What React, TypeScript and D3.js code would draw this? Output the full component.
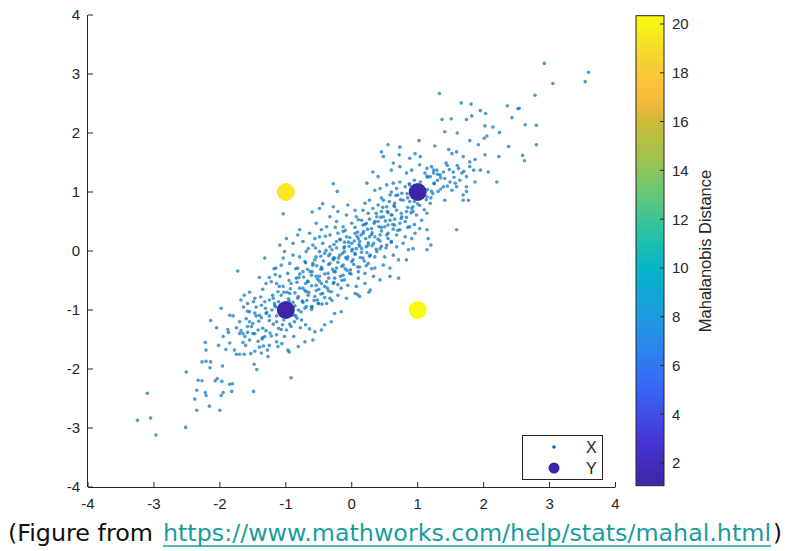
import React from 'react';
import * as d3 from 'd3';

const W = 788;
const H = 551;

const xTicks = [-4, -3, -2, -1, 0, 1, 2, 3, 4];
const yTicks = [-4, -3, -2, -1, 0, 1, 2, 3, 4];
const cbTicks = [2, 4, 6, 8, 10, 12, 14, 16, 18, 20];
const cbDomain: [number, number] = [1.07, 20.34];
const cbLabel = 'Mahalanobis Distance';
const legendLabels = ['X', 'Y'];

// Query points Y and their Mahalanobis distances
const yPtsX = [1, 1, -1, -1];
const yPtsY = [1, -1, 1, -1];
const mahalD = [1.12, 20.34, 19.5, 1.07];

// parula-like colormap stops (fraction of colorbar range -> colour)
const parulaT = [0, 0.1, 0.204, 0.282, 0.36, 0.463, 0.541, 0.619, 0.697, 0.775, 0.827, 0.905, 1];
const parulaC = ['#3e26a8', '#4637d7', '#3764f5', '#2d82f0', '#1e9be1', '#05b5c8', '#28c2a4', '#64c878', '#a0c44e', '#cdbb36', '#fcb93c', '#f5d232', '#f9fb0e'];

// Sample X (bivariate cloud)
const xSamples: [number, number][] = [
  // lower-left tail
  [-3.10,-2.41],[-3.25,-2.87],[-3.05,-2.83],[-2.97,-3.12],[-2.52,-2.99],[-2.51,-2.05],[-2.38,-2.51],[-2.35,-2.36],[-2.35,-2.70],[-2.33,-2.19],
  [-2.27,-2.20],[-2.22,-2.40],[-2.21,-2.45],[-2.16,-2.63],[-2.00,-2.70],[-2.07,-2.20],[-2.04,-2.16],[-1.97,-2.21],[-1.95,-2.40],[-1.98,-2.45],
  [-1.85,-2.26],[-1.81,-2.25],[-1.82,-2.38],[-1.49,-2.38],[-2.27,-1.88],[-2.21,-1.87],[-2.14,-1.88],[-2.15,-1.98],[-1.96,-1.95],[-2.22,-1.55],
  [-2.21,-1.68],[-2.02,-1.60],[-1.91,-1.67],[-1.85,-1.56],[-1.78,-1.68],[-1.75,-1.75],[-1.70,-1.75],[-1.63,-1.75],[-1.61,-1.60],[-1.55,-1.51],
  [-1.53,-1.74],[-1.47,-1.70],[-1.48,-1.92],[-1.44,-2.01],[-1.42,-1.53],[-1.40,-1.63],[-1.37,-1.73],[-1.34,-1.61],[-1.27,-1.79],[-1.28,-1.68],
  [-1.25,-1.60],[-1.22,-1.44],[-1.70,-1.40],[-1.65,-1.40],[-1.58,-1.38],[-1.47,-1.40],[-1.36,-1.49],[-1.32,-1.45],[-1.87,-1.38],[-0.92,-2.15],
  // around (-1,-1)
  [-1.73,-0.34],[-1.32,-0.12],[-1.15,-0.29],[-1.16,-0.40],[-1.30,-0.55],[-1.22,-0.52],[-1.14,-0.55],[-1.12,-0.69],[-1.63,-0.75],[-1.68,-0.83],
  [-1.58,-0.89],[-1.49,-0.86],[-1.37,-0.92],[-1.32,-0.86],[-1.25,-0.83],[-1.17,-0.89],[-1.21,-1.00],[-1.30,-1.06],[-1.40,-1.09],[-1.47,-1.05],
  [-1.55,-1.03],[-1.98,-0.97],[-1.85,-1.09],[-2.14,-1.18],[-1.50,-1.23],[-1.42,-1.34],[-1.35,-1.31],[-1.58,-1.28],[-1.68,-1.35],[-1.88,-1.33],
  [-0.87,-1.09],[-0.81,-1.00],[-0.71,-0.97],[-0.61,-0.94],[-0.50,-0.89],[-0.38,-0.89],[-0.87,-1.20],[-0.76,-1.17],[-0.70,-1.25],[-0.64,-1.32],
  [-0.41,-1.25],[-0.31,-1.20],[-0.26,-1.06],[-0.16,-1.03],[-1.07,-1.33],[-0.99,-1.34],[-0.92,-1.28],[-1.14,-1.20],[-1.25,-1.18],[-0.68,-0.84],
  [-0.52,-0.83],[-0.30,-0.84],[-1.14,-1.42],[-1.14,-1.54],[-1.02,-1.45],[-1.06,-1.57],[-0.97,-1.68],[-0.81,-1.62],[-0.71,-1.54],[-0.59,-1.51],
  [-0.46,-1.34],[-0.56,-1.37],[-1.12,-1.62],[-0.95,-1.71],
  // centre
  [-0.28,1.14],[-0.22,1.01],[-0.44,0.80],[-0.49,0.72],[-0.28,0.75],[-0.06,0.78],[0.05,0.69],[-0.60,0.66],[-0.21,0.67],[-1.04,0.63],
  [-0.33,0.58],[-0.08,0.61],[0.07,0.58],[-0.79,0.36],[-0.54,0.47],[-0.38,0.41],[-0.23,0.50],[-0.13,0.41],[0.00,0.47],[0.10,0.53],
  [-0.46,0.36],[-0.99,0.21],[-0.82,0.27],[-0.64,0.30],[-0.49,0.24],[-0.33,0.27],[-0.21,0.30],[-0.08,0.24],[0.05,0.30],[0.10,0.21],
  [-0.56,0.21],[-0.13,0.33],[-1.02,-0.01],[-0.89,0.13],[-0.74,0.16],[-0.59,0.10],[-0.44,0.13],[-0.33,0.07],[-0.23,0.16],[-0.11,0.07],
  [0.00,0.13],[0.12,0.16],[0.22,0.07],[0.33,0.13],[0.43,0.04],[0.53,0.10],[0.68,0.07],[0.78,0.13],[0.93,0.04],[1.14,0.02],
  [-0.66,0.04],[0.07,0.04],[0.60,0.16],[0.86,0.02],[-1.04,-0.12],[-0.89,-0.07],[-0.79,-0.10],[-0.69,-0.01],[-0.54,-0.10],[-0.41,-0.04],
  [-0.28,-0.12],[-0.18,-0.07],[-0.06,-0.10],[0.05,-0.04],[0.17,-0.12],[0.28,-0.07],[0.38,-0.01],[0.50,-0.10],[0.63,-0.07],[0.71,-0.15],
  [0.83,-0.15],[-0.49,-0.01],[-0.11,-0.01],[-1.07,-0.24],[-0.94,-0.21],[-0.82,-0.29],[-0.71,-0.18],[-0.59,-0.24],[-0.46,-0.27],[-0.33,-0.21],
  [-0.23,-0.29],[-0.13,-0.24],[0.00,-0.18],[0.12,-0.27],[0.25,-0.21],[0.35,-0.29],[0.48,-0.24],[0.58,-0.29],[-0.56,-0.15],[-0.28,-0.15],
  [-1.09,-0.43],[-0.97,-0.38],[-0.84,-0.46],[-0.74,-0.35],[-0.61,-0.41],[-0.49,-0.43],[-0.36,-0.38],[-0.26,-0.46],[-0.13,-0.41],[-0.03,-0.38],
  [0.10,-0.46],[0.20,-0.38],[0.33,-0.43],[0.43,-0.49],[0.58,-0.43],[0.71,-0.46],[-1.04,-0.60],[-0.92,-0.55],[-0.79,-0.63],[-0.66,-0.52],
  [-0.54,-0.58],[-0.41,-0.60],[-0.28,-0.55],[-0.16,-0.63],[-0.06,-0.58],[0.07,-0.60],[0.20,-0.55],[0.28,-0.66],[-1.07,-0.75],[-0.94,-0.72],
  [-0.82,-0.80],[-0.69,-0.69],[-0.56,-0.77],[-0.44,-0.72],[-0.33,-0.80],[-0.21,-0.75],[-0.08,-0.80],[0.05,-0.72],[0.12,-0.77],[-1.09,0.10],
  [1.20,0.10],[0.26,-0.70],[0.09,-0.74],
  // upper band around (1,1)
  [1.41,2.02],[1.60,2.00],[2.02,2.12],[2.14,2.10],[2.24,2.01],[2.05,1.95],[2.01,1.91],[1.79,1.87],[1.92,1.80],[2.38,1.77],
  [0.55,1.80],[0.73,1.76],[1.02,1.87],[1.26,1.78],[1.47,1.72],[1.59,1.68],[1.52,1.65],[1.69,1.60],[1.79,1.51],[1.87,1.55],
  [2.23,1.60],[2.02,1.63],[0.45,1.68],[0.48,1.60],[0.63,1.49],[0.72,1.63],[0.88,1.57],[0.96,1.65],[1.04,1.60],[1.14,1.40],
  [1.21,1.43],[1.29,1.37],[1.39,1.34],[1.43,1.49],[1.48,1.38],[1.54,1.34],[1.62,1.40],[1.67,1.32],[1.74,1.26],[1.85,1.37],
  [1.95,1.37],[2.07,1.34],[1.79,1.43],[0.32,1.34],[0.40,1.26],[0.23,1.15],[0.60,1.37],[0.73,1.43],[0.83,1.32],[0.91,1.37],
  [1.03,1.46],[1.11,1.32],[1.19,1.26],[1.24,1.32],[1.34,1.29],[1.41,1.23],[1.49,1.17],[1.57,1.15],[1.64,1.20],[1.74,1.09],
  [1.87,1.17],[2.20,1.17],[1.59,1.09],[1.31,1.01],[1.39,1.09],[1.52,1.03],[0.35,1.03],[0.43,1.06],[0.53,1.12],[0.63,1.15],
  [0.68,1.06],[0.73,1.17],[0.81,1.09],[0.88,1.12],[0.76,0.98],[0.58,0.95],[0.48,0.86],[0.40,0.78],[0.27,0.86],[0.20,0.81],
  [0.65,0.81],[0.78,0.86],[0.88,0.84],[0.93,0.75],[1.14,0.92],[1.19,0.81],[1.21,1.01],[1.41,0.86],[1.69,0.86],[1.77,0.86],
  [1.74,1.01],[1.69,0.95],[0.17,0.69],[0.25,0.64],[0.32,0.72],[0.38,0.58],[0.45,0.67],[0.53,0.75],[0.60,0.61],[0.68,0.69],
  [0.76,0.58],[0.83,0.67],[0.91,0.72],[0.98,0.61],[1.06,0.52],[1.14,0.64],[0.15,0.52],[0.22,0.47],[0.30,0.38],[0.40,0.50],
  [0.50,0.41],[0.58,0.52],[0.65,0.44],[0.73,0.36],[0.81,0.50],[0.88,0.41],[0.96,0.30],[1.03,0.38],[1.14,0.36],[0.17,0.30],
  [0.27,0.24],[0.43,0.27],[0.55,0.21],[0.68,0.27],[0.81,0.24],[0.91,0.21],[1.16,0.21],[1.59,0.36],[0.48,0.58],
  // upper-right tail
  [2.92,3.18],[3.59,3.03],[3.54,2.87],[3.05,2.84],[1.33,2.67],[2.78,2.64],[1.66,2.51],[1.81,2.49],[2.36,2.46],[2.52,2.41],
  [2.54,2.42],[1.95,2.38],[2.03,2.33],[1.82,2.29],[1.37,2.23],[1.51,2.24],[1.74,2.23],[2.43,2.26],[2.63,2.14],[2.80,2.13],
  [2.80,1.80],[2.59,1.62],[2.62,1.53],
  // dense core (estimated)
  [-0.30,0.02],[-0.18,0.20],[-0.05,0.15],[0.08,0.25],[0.18,0.33],[0.30,0.28],[0.40,0.20],[0.25,0.10],[0.15,-0.02],[0.02,-0.15],
  [-0.10,-0.30],[-0.20,-0.12],[-0.35,-0.08],[-0.45,-0.30],[-0.60,-0.35],[-0.70,-0.55],[-0.52,-0.48],[-0.38,-0.52],[-0.15,-0.50],[-0.02,-0.32],
  [0.10,-0.35],[0.22,-0.25],[0.35,-0.10],[0.45,0.08],[0.55,0.30],[0.45,0.40],[0.35,0.50],[0.20,0.45],[0.05,0.40],[-0.10,0.35],
  [-0.25,0.40],[-0.40,0.25],[-0.55,0.05],[-0.70,-0.20],[-0.85,-0.30],[-0.95,-0.50],[-0.80,-0.45],[-0.65,-0.70],[-0.50,-0.65],[-0.35,-0.68],
  [-0.25,-0.35],[0.00,0.00],[-0.12,0.05],[0.12,0.08],[0.30,-0.30],[0.52,0.05],[0.62,0.45],[0.70,0.35],[0.60,0.15],[0.85,0.40],
  [0.75,0.55],[0.90,0.65],[1.00,0.80],[0.85,0.90],[0.65,0.75],[0.55,0.65],[0.95,0.45],[1.10,0.70],[1.20,0.90],[0.70,0.95],
  [0.60,1.00],[0.45,0.90],[1.05,1.10],[1.25,1.15],[1.15,1.25],[0.95,1.20],[1.30,1.30],
  [-1.15,-0.95],[-0.95,-0.85],[-0.85,-1.10],[-0.75,-0.85],[-1.25,-1.10],[-1.05,-1.25],[-0.90,-0.95],[-1.20,-0.75],[-1.35,-0.65],[-1.45,-0.95],
  [-1.60,-1.15],[-1.50,-1.40],[-1.30,-1.35],[-1.75,-1.30],[-1.55,-0.70],[-1.40,-0.45],[-1.25,-0.45],[-1.10,-0.60],[-0.98,-0.70],[-1.18,-0.30],
  [-0.60,-0.95],[-0.45,-0.90],[-0.78,-1.30],[-0.88,-1.45],[-1.80,-1.10],[-1.95,-1.45],[-1.65,-1.55],[-2.05,-1.30],
  // dense diagonal band (estimated)
  [-1.35,-1.47],[-1.52,-1.28],[-1.41,-1.19],[-1.24,-1.39],[-1.37,-1.13],[-1.19,-1.24],[-1.11,-1.31],[-1.29,-1.04],[-1.14,-1.10],[-1.31,-0.97],
  [-1.03,-1.17],[-1.17,-0.93],[-1.07,-1.06],[-0.94,-1.24],[-0.91,-1.09],[-1.11,-0.86],[-0.97,-0.99],[-0.83,-1.14],[-1.19,-0.80],[-0.86,-0.93],
  [-0.96,-0.81],[-0.77,-1.03],[-1.03,-0.70],[-0.89,-0.87],[-0.74,-0.87],[-0.86,-0.71],[-0.69,-0.94],[-0.93,-0.64],[-0.81,-0.77],[-0.61,-0.99],
  [-0.66,-0.75],[-0.74,-0.63],[-0.57,-0.84],[-0.83,-0.53],[-0.71,-0.67],[-0.51,-0.89],[-0.54,-0.67],[-0.67,-0.51],[-0.47,-0.73],[-0.73,-0.44],
  [-0.61,-0.59],[-0.41,-0.79],[-0.79,-0.39],[-0.46,-0.55],[-0.54,-0.43],[-0.37,-0.63],[-0.63,-0.35],[-0.49,-0.51],[-0.31,-0.69],[-0.67,-0.31],
  [-0.35,-0.46],[-0.47,-0.31],[-0.27,-0.53],[-0.53,-0.25],[-0.41,-0.39],[-0.21,-0.57],[-0.59,-0.21],[-0.27,-0.35],[-0.35,-0.23],[-0.17,-0.43],
  [-0.43,-0.17],[-0.29,-0.31],[-0.11,-0.49],[-0.47,-0.09],[-0.15,-0.26],[-0.26,-0.12],[-0.07,-0.33],[-0.33,-0.05],[-0.21,-0.19],[-0.01,-0.39],
  [-0.39,0.01],[-0.07,-0.14],[-0.14,-0.04],[0.03,-0.23],[-0.23,0.05],[-0.09,-0.11],[0.09,-0.27],[-0.27,0.11],[0.05,-0.06],[-0.04,0.08],
  [0.13,-0.11],[-0.11,0.15],[0.01,0.03],[0.19,-0.17],[-0.17,0.19],[0.15,0.04],[0.04,0.17],[0.23,-0.03],[-0.03,0.23],[0.11,0.11],
  [0.27,-0.09],[0.25,0.14],[0.14,0.27],[0.31,0.09],[0.09,0.32],[0.21,0.21],[0.37,0.03],[0.35,0.24],[0.24,0.37],[0.43,0.17],
  [0.17,0.44],[0.31,0.31],[0.45,0.34],[0.34,0.47],[0.53,0.27],[0.27,0.54],[0.41,0.41],[0.55,0.44],[0.44,0.57],[0.63,0.37],
  [0.37,0.64],[0.51,0.51],[0.65,0.54],[0.54,0.67],[0.73,0.47],[0.47,0.74],[0.61,0.61],[0.75,0.64],[0.64,0.77],[0.83,0.57],
  [0.57,0.84],[0.85,0.74],[0.74,0.87],[0.93,0.67],[0.67,0.94],[0.95,0.84],[0.84,0.97],[1.03,0.77],[1.05,0.94],[0.94,1.07],
  [1.13,0.87],[0.87,1.14],[1.15,1.04],[1.04,1.17],[1.23,0.97],[1.25,1.14],[1.14,1.27],[1.35,1.24],[1.24,1.37],
  [-1.62,-1.45],[-1.55,-1.20],[-1.70,-1.20],[-1.45,-1.10],[-1.58,-1.02],[-1.38,-0.78],[-1.47,-0.80],[-1.64,-0.95],
  [1.45,1.45],[1.55,1.25],[1.35,1.05],[1.60,1.45],[1.70,1.35],[1.45,1.10],[1.30,1.20],
];

const axisColor = '#262626';
const tickFont = "'Liberation Sans', Arial, Helvetica, sans-serif";

export default function App() {
  const x = d3.scaleLinear().domain([-4, 4]).range([88, 615.5]);
  const y = d3.scaleLinear().domain([-4, 4]).range([487, 15]);
  const cb = d3.scaleLinear().domain(cbDomain).range([485.7, 15.7]);
  const tScale = d3.scaleLinear<string>()
    .domain(parulaT.map(t => cbDomain[0] + t * (cbDomain[1] - cbDomain[0])))
    .range(parulaC)
    .interpolate(d3.interpolateRgb);
  const stops = d3.range(0, 51).map(i => {
    const t = i / 50;
    return { t, c: tScale(cbDomain[0] + t * (cbDomain[1] - cbDomain[0])) };
  });
  const cbX0 = 636, cbX1 = 664;
  const [x0, x1] = x.range();
  const [y0, y1] = y.range();

  return (
    <svg width={W} height={H} style={{ position: 'absolute', left: 0, top: 0, background: '#fff' }}>
      <defs>
        <linearGradient id="parula" x1="0" y1="1" x2="0" y2="0">
          {stops.map(s => <stop key={s.t} offset={s.t} stopColor={s.c} />)}
        </linearGradient>
      </defs>
      <rect width={W} height={H} fill="#fff" />

      {/* sample points */}
      <g>
        {xSamples.map((p, i) => (
          <circle key={i} cx={x(p[0])} cy={y(p[1])} r={1.8} fill="#0072BD" fillOpacity={0.7} />
        ))}
      </g>

      {/* query points */}
      <g>
        {yPtsX.map((px, i) => (
          <circle key={i} cx={x(px)} cy={y(yPtsY[i])} r={9} fill={tScale(mahalD[i])} />
        ))}
      </g>

      {/* axes */}
      <g stroke={axisColor} strokeWidth={1} fill="none">
        <line x1={x0} y1={y0 + 0.5} x2={x1} y2={y0 + 0.5} />
        <line x1={x0 - 0.5} y1={y0} x2={x0 - 0.5} y2={y1} />
        {xTicks.map(t => <line key={'xt' + t} x1={x(t)} x2={x(t)} y1={y0} y2={y0 - 5} />)}
        {yTicks.map(t => <line key={'yt' + t} x1={x0} x2={x0 + 5} y1={y(t)} y2={y(t)} />)}
      </g>
      <g fill={axisColor} fontFamily={tickFont} fontSize={15}>
        {xTicks.map(t => (
          <text key={'xl' + t} x={x(t)} y={509} textAnchor="middle">{t}</text>
        ))}
        {yTicks.map(t => (
          <text key={'yl' + t} x={80} y={y(t)} dy="0.36em" textAnchor="end">{t}</text>
        ))}
      </g>

      {/* colorbar */}
      <rect x={cbX0} y={cb.range()[1]} width={cbX1 - cbX0} height={cb.range()[0] - cb.range()[1]} fill="url(#parula)" stroke={axisColor} strokeWidth={1} />
      <g stroke={axisColor} strokeWidth={1}>
        {cbTicks.map(t => <line key={'ct' + t} x1={cbX1} x2={cbX1 - 4} y1={cb(t)} y2={cb(t)} />)}
      </g>
      <g fill={axisColor} fontFamily={tickFont} fontSize={15}>
        {cbTicks.map(t => (
          <text key={'cl' + t} x={672} y={cb(t)} dy="0.36em">{t}</text>
        ))}
        <text transform={`translate(711,251) rotate(-90)`} textAnchor="middle" fontSize={16.5}>{cbLabel}</text>
      </g>

      {/* legend */}
      <rect x={522.5} y={435.5} width={80} height={44} fill="#fff" stroke={axisColor} strokeWidth={1} />
      <circle cx={554} cy={447} r={1.8} fill="#0072BD" />
      <circle cx={554} cy={468} r={5.5} fill={tScale(cbDomain[0])} />
      <g fill={axisColor} fontFamily={tickFont} fontSize={16}>
        <text x={586} y={452.5}>{legendLabels[0]}</text>
        <text x={586} y={473.5}>{legendLabels[1]}</text>
      </g>

      {/* caption */}
      <g fontFamily="Tahoma, 'DejaVu Sans', Verdana, sans-serif" fontSize={23}>
        <text x={8} y={541} fill="#111" textLength={145} lengthAdjust="spacingAndGlyphs">(Figure from</text>
        <text x={163} y={541} fill="#1a9c9c" textLength={608} lengthAdjust="spacingAndGlyphs">https://www.mathworks.com/help/stats/mahal.html</text>
        <text x={773} y={541} fill="#111" textLength={9} lengthAdjust="spacingAndGlyphs">)</text>
        <line x1={163} x2={771} y1={546} y2={546} stroke="#1a9c9c" strokeWidth={1.5} />
      </g>
    </svg>
  );
}
